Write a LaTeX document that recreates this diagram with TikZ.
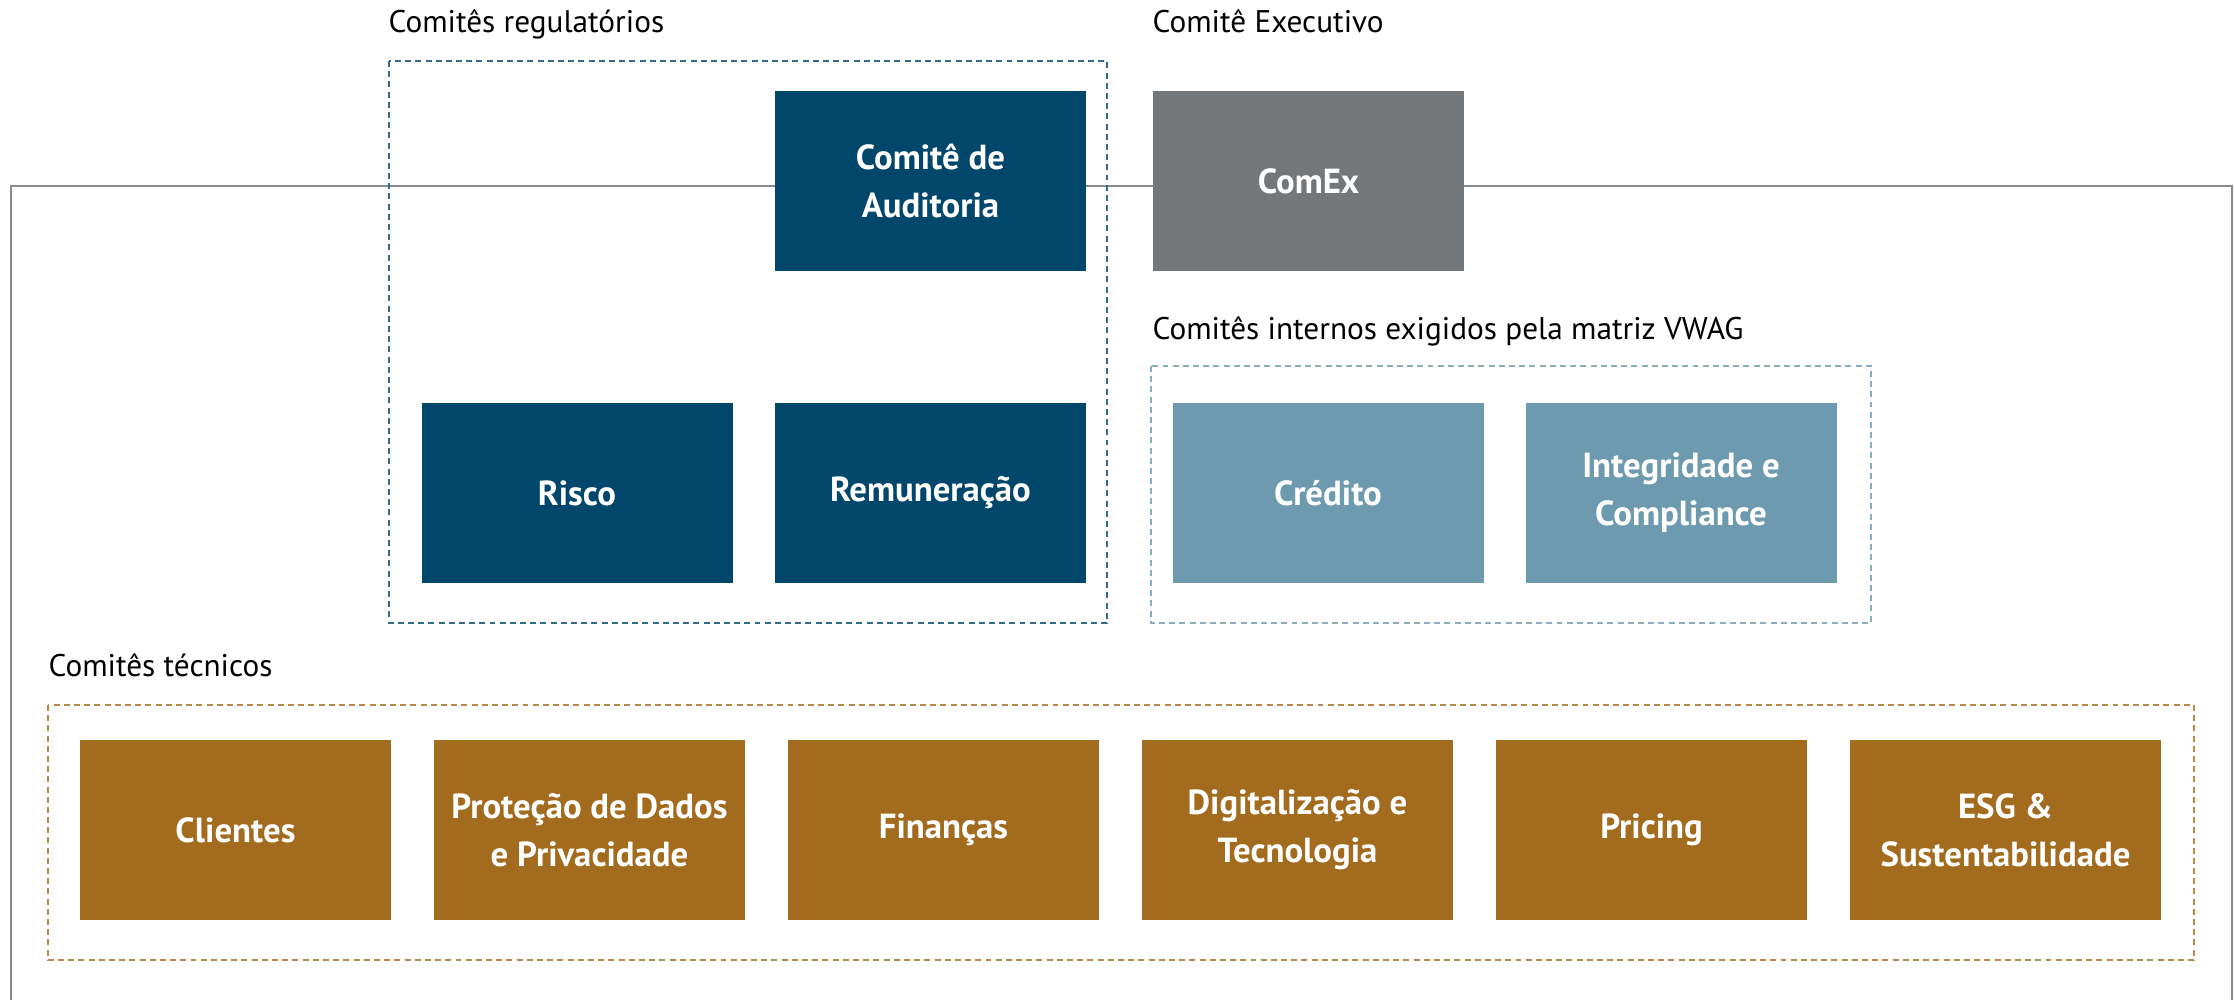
\documentclass[tikz,border=0pt]{standalone}
\usepackage{fontspec}
\setmainfont{PT Sans}
\usetikzlibrary{positioning}

\definecolor{vwblue}{HTML}{00476B}
\definecolor{vwgray}{HTML}{73777A}
\definecolor{vwlight}{HTML}{6E9AAF}
\definecolor{vwbrown}{HTML}{A26B1D}

\tikzset{
  comite/.style={minimum width=3.11cm, minimum height=1.8cm, inner sep=0pt, outer sep=0pt,
    text=white, align=center, font=\fontsize{9.9}{13.7}\selectfont\bfseries},
  grupo/.style={dash pattern=on 1.7pt off 1.2pt, line width=0.35pt},
  titulo/.style={anchor=base west, inner sep=0pt, font=\fontsize{8.9}{11}\selectfont},
  linha/.style={draw=vwgray!85, line width=0.6pt}
}

\begin{document}
\begin{tikzpicture}[x=1cm,y=-1cm]
  \useasboundingbox (0,0) rectangle (22.34,10);
  % outer line behind the boxes
  \coordinate (lb) at (0.11,10);
  \coordinate (rt) at (22.32,1.86);
  \coordinate (rb) at (22.32,10);
  \draw[linha] (lb) |- (rt) -- (rb);

  % groups
  \draw[grupo, draw=vwblue!80] (3.89,0.61) rectangle (11.07,6.23);
  \draw[grupo, draw=vwlight!80] (11.51,3.66) rectangle (18.71,6.23);
  \draw[grupo, draw=vwbrown!80] (0.48,7.05) rectangle (21.94,9.60);

  \node[titulo] (lreg) at (3.88,0.33) {Comitês regulatórios};
  \node[titulo] (lexe) at (11.52,0.33) {Comitê Executivo};
  \node[titulo] (lint) at (11.52,3.40) {Comitês internos exigidos pela matriz VWAG};
  \node[titulo] (ltec) at (0.48,6.77) {Comitês técnicos};

  \node[comite, fill=vwblue] (aud) at (9.305,1.81) {Comitê de\\Auditoria};
  \node[comite, fill=vwgray] (comex) at (13.085,1.81) {ComEx};
  \node[comite, fill=vwblue] (risco) at (5.77,4.93) {Risco};
  \node[comite, fill=vwblue] (remun) at (9.305,4.93) {Remuneração};
  \node[comite, fill=vwlight] (cred) at (13.28,4.93) {Crédito};
  \node[comite, fill=vwlight] (integ) at (16.81,4.93) {Integridade e\\Compliance};

  % technical committees
  \node[comite, fill=vwbrown] (cli) at (2.355,8.30) {Clientes};
  \node[comite, fill=vwbrown, right=0.43cm of cli] (prot) {Proteção de Dados\\e Privacidade};
  \node[comite, fill=vwbrown, right=0.43cm of prot] (fin) {Finanças};
  \node[comite, fill=vwbrown, right=0.43cm of fin] (dig) {Digitalização e\\Tecnologia};
  \node[comite, fill=vwbrown, right=0.43cm of dig] (pri) {Pricing};
  \node[comite, fill=vwbrown, right=0.43cm of pri] (esg) {ESG \&\\Sustentabilidade};
\end{tikzpicture}
\end{document}
